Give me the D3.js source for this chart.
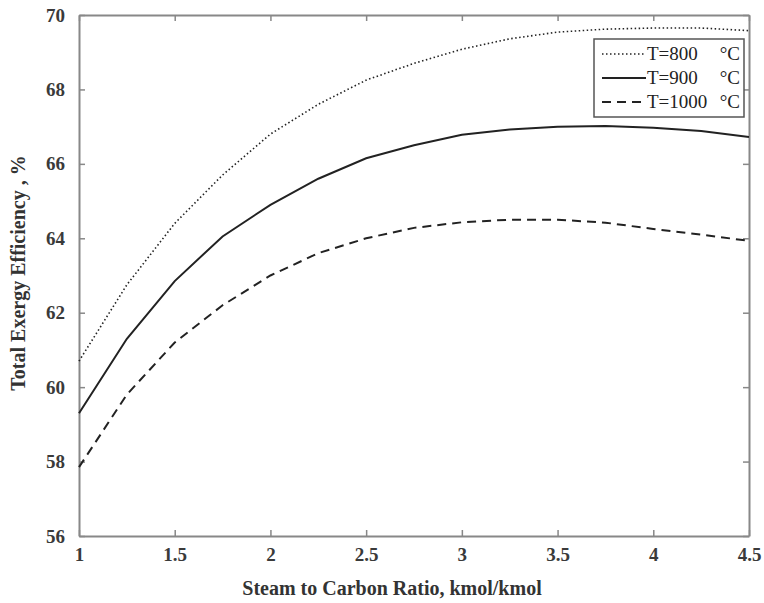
<!DOCTYPE html>
<html>
<head>
<meta charset="utf-8">
<script src="https://cdn.jsdelivr.net/npm/d3@7"></script>
<style>
  body { margin: 0; background: #fff; }
</style>
</head>
<body>
<div id="container"></div>
<script>
/* DATA */
const ratios = [1, 1.25, 1.5, 1.75, 2, 2.25, 2.5, 2.75, 3, 3.25, 3.5, 3.75, 4, 4.25, 4.5];
const eff800 = [60.7, 62.75, 64.4, 65.7, 66.8, 67.6, 68.25, 68.7, 69.08, 69.36, 69.54, 69.62, 69.65, 69.65, 69.58];
const eff900 = [59.3, 61.3, 62.85, 64.05, 64.9, 65.6, 66.15, 66.5, 66.78, 66.92, 67.0, 67.02, 66.97, 66.88, 66.72];
const eff1000 = [57.85, 59.8, 61.2, 62.2, 63.0, 63.6, 64.0, 64.28, 64.43, 64.5, 64.5, 64.42, 64.25, 64.1, 63.93];
const xTicks = [1, 1.5, 2, 2.5, 3, 3.5, 4, 4.5];
const yTicks = [56, 58, 60, 62, 64, 66, 68, 70];
const seriesNames = ["T=800", "T=900", "T=1000"];

/* CONSTANTS */
const width = 764,
  height = 603,
  margin = { top: 15, bottom: 67, left: 79, right: 15 },
  serif = "Liberation Serif";

const series = [
  { name: seriesNames[0], values: eff800, dash: "1.5,2.5", w: 1.6 },
  { name: seriesNames[1], values: eff900, dash: null, w: 2 },
  { name: seriesNames[2], values: eff1000, dash: "9,6", w: 2 }
];

const svg = d3.select("#container")
  .append("svg")
  .attr("width", width)
  .attr("height", height)
  .attr("font-family", serif);

const xScale = d3.scaleLinear()
  .domain([1, 4.5])
  .range([margin.left, width - margin.right]);

const yScale = d3.scaleLinear()
  .domain([56, 70])
  .range([height - margin.bottom, margin.top]);

const axisColor = "#888";

// axes (ticks point inward)
const xBottom = svg.append("g")
  .attr("transform", `translate(0, ${height - margin.bottom})`)
  .call(d3.axisBottom(xScale).tickValues(xTicks).tickSizeInner(-6).tickSizeOuter(0).tickPadding(12).tickFormat(d3.format("")));

const xTop = svg.append("g")
  .attr("transform", `translate(0, ${margin.top})`)
  .call(d3.axisTop(xScale).tickValues(xTicks).tickSizeInner(-6).tickSizeOuter(0).tickFormat(""));

const yLeft = svg.append("g")
  .attr("transform", `translate(${margin.left}, 0)`)
  .call(d3.axisLeft(yScale).tickValues(yTicks).tickSizeInner(-6).tickSizeOuter(0).tickPadding(14));

const yRight = svg.append("g")
  .attr("transform", `translate(${width - margin.right}, 0)`)
  .call(d3.axisRight(yScale).tickValues(yTicks).tickSizeInner(-6).tickSizeOuter(0).tickFormat(""));

[xBottom, xTop, yLeft, yRight].forEach(g => {
  g.attr("font-family", serif);
  g.select(".domain").attr("stroke", axisColor).attr("stroke-width", 2);
  g.selectAll(".tick line").attr("stroke", axisColor).attr("stroke-width", 1.5);
  g.selectAll(".tick text")
    .attr("fill", "#3a3a3a")
    .attr("font-size", 19)
    .attr("font-weight", "bold");
});

// lines
const line = d3.line()
  .x((d, i) => xScale(ratios[i]))
  .y(d => yScale(d));

svg.selectAll("path.series")
  .data(series)
  .join("path")
  .attr("class", "series")
  .attr("d", d => line(d.values))
  .attr("fill", "none")
  .attr("stroke", "#222")
  .attr("stroke-width", d => d.w)
  .attr("stroke-dasharray", d => d.dash);

// legend
const legend = svg.append("g").attr("transform", "translate(594, 39)");
legend.append("rect")
  .attr("width", 150)
  .attr("height", 78)
  .attr("fill", "#fff")
  .attr("stroke", "#555")
  .attr("stroke-width", 1.5);

series.forEach((s, i) => {
  const yy = 15 + i * 24;
  legend.append("line")
    .attr("x1", 8).attr("x2", 52)
    .attr("y1", yy).attr("y2", yy)
    .attr("stroke", "#222")
    .attr("stroke-width", s.w)
    .attr("stroke-dasharray", s.dash);
  legend.append("text")
    .attr("x", 53).attr("y", yy + 6)
    .attr("font-size", 19)
    .attr("fill", "#222")
    .text(s.name);
  legend.append("text")
    .attr("x", 146).attr("y", yy + 6)
    .attr("text-anchor", "end")
    .attr("font-size", 19)
    .attr("fill", "#222")
    .text("°C");
});

// axis labels
svg.append("text")
  .attr("x", 392)
  .attr("y", 595)
  .attr("text-anchor", "middle")
  .attr("font-size", 20)
  .attr("font-weight", "bold")
  .attr("fill", "#333")
  .text("Steam to Carbon Ratio, kmol/kmol");

svg.append("text")
  .attr("transform", "rotate(-90)")
  .attr("x", -273)
  .attr("y", 25)
  .attr("text-anchor", "middle")
  .attr("font-size", 20)
  .attr("font-weight", "bold")
  .attr("fill", "#333")
  .text("Total Exergy Efficiency , %");
</script>
</body>
</html>
